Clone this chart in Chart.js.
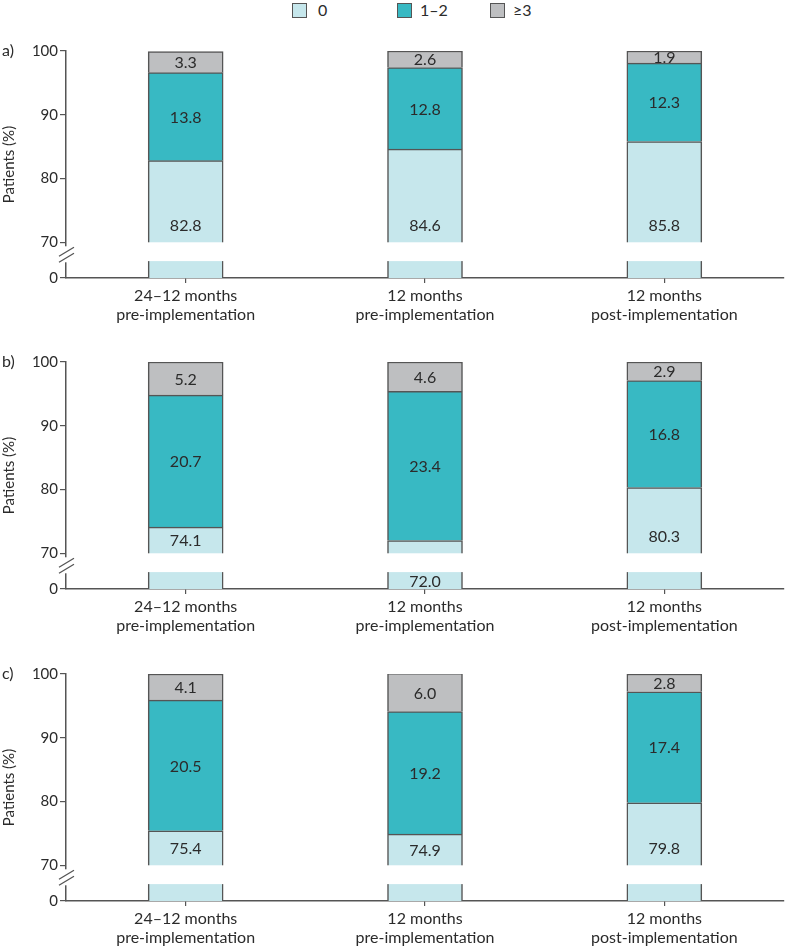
<!DOCTYPE html>
<html>
<head>
<meta charset="utf-8">
<script src="https://cdn.jsdelivr.net/npm/chart.js@4/dist/chart.umd.min.js"></script>
<style>
  html, body { margin: 0; padding: 0; background: #fff; }
  #wrap { position: relative; width: 791px; height: 951px; overflow: hidden; font-family: Lato, sans-serif; color: #2b2b2b; }
  canvas { position: absolute; left: 0; }
  .panel { position: absolute; left: 2px; font-size: 16px; line-height: 18px; }
  .lg-box { position: absolute; width: 13px; height: 13px; border: 1.5px solid #555; top: 3px; }
  .lg-txt { position: absolute; top: 1px; font-size: 16px; line-height: 18px; }
</style>
</head>
<body>
<div id="wrap"></div>
<script>
// ---- data ----
const categories = [['24–12 months', 'pre-implementation'], ['12 months', 'pre-implementation'], ['12 months', 'post-implementation']];
const seriesNames = ['0', '1–2', '≥3'];
const panelLabels = ['a)', 'b)', 'c)'];

const aZero = [82.8, 84.6, 85.8];
const aOneTwo = [13.8, 12.8, 12.3];
const aThreePlus = [3.3, 2.6, 1.9];

const bZero = [74.1, 72.0, 80.3];
const bOneTwo = [20.7, 23.4, 16.8];
const bThreePlus = [5.2, 4.6, 2.9];

const cZero = [75.4, 74.9, 79.8];
const cOneTwo = [20.5, 19.2, 17.4];
const cThreePlus = [4.1, 6.0, 2.8];

const yTickLabels = [0, 70, 80, 90, 100];

// ---- styling / layout ----
const COLORS = ['#c6e7ec', '#38b9c3', '#bebfc1'];
const EDGE = '#555555';
const TEXT = '#2b2b2b';
const FONT = 'Lato, sans-serif';
const AXIS_MIN = 64.4;   // where the "0" tick sits below the axis break
const BREAK_LOW = 67.05; // lower edge of the white break band
const PANEL_TOPS = [0, 311, 623];
const CANVAS_H = [330, 330, 328];

const panels = [
  [aZero, aOneTwo, aThreePlus],
  [bZero, bOneTwo, bThreePlus],
  [cZero, cOneTwo, cThreePlus]
];

const wrap = document.getElementById('wrap');

// legend
const legendPos = [[292, 318], [397, 420], [490, 513]];
seriesNames.forEach((n, i) => {
  const b = document.createElement('div');
  b.className = 'lg-box';
  b.style.left = legendPos[i][0] + 'px';
  b.style.background = COLORS[i];
  wrap.appendChild(b);
  const t = document.createElement('div');
  t.className = 'lg-txt';
  t.style.left = legendPos[i][1] + 'px';
  t.textContent = n;
  wrap.appendChild(t);
});

const breakPlugin = {
  id: 'breakAndLabels',
  afterDatasetsDraw(chart) {
    const ctx = chart.ctx, y = chart.scales.y, area = chart.chartArea;
    const p70 = y.getPixelForValue(70), pLow = y.getPixelForValue(BREAK_LOW), p0 = y.getPixelForValue(AXIS_MIN);
    ctx.save();
    ctx.fillStyle = '#fff';
    ctx.fillRect(area.left + 1, p70, area.right - area.left, pLow - p70);
    // value labels
    ctx.fillStyle = TEXT;
    ctx.font = '16px ' + FONT;
    ctx.textAlign = 'center';
    ctx.textBaseline = 'middle';
    chart.data.datasets.forEach((ds, di) => {
      const meta = chart.getDatasetMeta(di);
      meta.data.forEach((el, i) => {
        const v = ds.data[i];
        const txt = v.toFixed(1);
        let cy;
        if (di === 0) {
          const topPx = el.y;
          const visible = p70 - topPx;
          if (visible < 20) {
            cy = (pLow + p0) / 2;
          } else {
            cy = Math.max((topPx + p70) / 2, p70 - 17);
          }
        } else {
          cy = (el.y + el.base) / 2;
        }
        ctx.fillText(txt, el.x, cy + 1);
      });
    });
    ctx.restore();
  },
  afterDraw(chart) {
    const ctx = chart.ctx, y = chart.scales.y, area = chart.chartArea;
    const p70 = y.getPixelForValue(70);
    const ax = area.left;
    ctx.save();
    ctx.fillStyle = '#fff';
    ctx.fillRect(ax - 2, p70 + 4, 4, 16);
    ctx.strokeStyle = EDGE;
    ctx.lineWidth = 1.3;
    ctx.beginPath();
    ctx.moveTo(ax - 7, p70 + 14); ctx.lineTo(ax + 8, p70 + 5);
    ctx.moveTo(ax - 7, p70 + 20); ctx.lineTo(ax + 8, p70 + 11);
    ctx.stroke();
    ctx.restore();
  }
};

panels.forEach((series, pi) => {
  const cv = document.createElement('canvas');
  cv.width = 791; cv.height = CANVAS_H[pi];
  cv.style.top = PANEL_TOPS[pi] + 'px';
  cv.style.width = '791px'; cv.style.height = CANVAS_H[pi] + 'px';
  wrap.appendChild(cv);

  const pl = document.createElement('div');
  pl.className = 'panel';
  pl.style.top = (PANEL_TOPS[pi] + 51 - 10) + 'px';
  pl.textContent = panelLabels[pi];
  wrap.appendChild(pl);

  new Chart(cv, {
    type: 'bar',
    data: {
      labels: categories,
      datasets: series.map((d, si) => ({
        label: seriesNames[si],
        data: d,
        backgroundColor: COLORS[si],
        borderColor: EDGE,
        borderWidth: 1.5,
        borderSkipped: 'start',
        barThickness: 75
      }))
    },
    options: {
      responsive: false,
      animation: false,
      devicePixelRatio: 1,
      layout: { padding: { top: 51, left: 0, right: 7, bottom: 0 } },
      plugins: { legend: { display: false }, tooltip: { enabled: false } },
      scales: {
        x: {
          stacked: true,
          grid: { display: true, drawOnChartArea: false, drawTicks: true, tickLength: 5, offset: false, color: EDGE, lineWidth: 1.2 },
          border: { display: true, color: EDGE, width: 1.5 },
          ticks: { color: TEXT, font: { family: FONT, size: 16, lineHeight: 1.2 }, padding: 3, maxRotation: 0, autoSkip: false },
          afterFit(s) { s.height = CANVAS_H[pi] - 278; }
        },
        y: {
          stacked: true,
          min: AXIS_MIN,
          max: 100,
          grid: { display: true, drawOnChartArea: false, drawTicks: true, tickLength: 6, color: EDGE, lineWidth: 1.2 },
          border: { display: true, color: EDGE, width: 1.5 },
          afterBuildTicks(s) {
            s.ticks = yTickLabels.map(v => ({ value: v === 0 ? AXIS_MIN : v }));
          },
          ticks: {
            color: TEXT, padding: 2,
            font: { family: FONT, size: 15 },
            callback(v) { return v < 70 ? '0' : String(v); }
          },
          title: { display: true, text: 'Patients (%)', color: TEXT, font: { family: FONT, size: 15 }, padding: { top: 0, bottom: 0 } },
          afterFit(s) { s.width = 66; }
        }
      }
    },
    plugins: [breakPlugin]
  });
});
</script>
</body>
</html>
